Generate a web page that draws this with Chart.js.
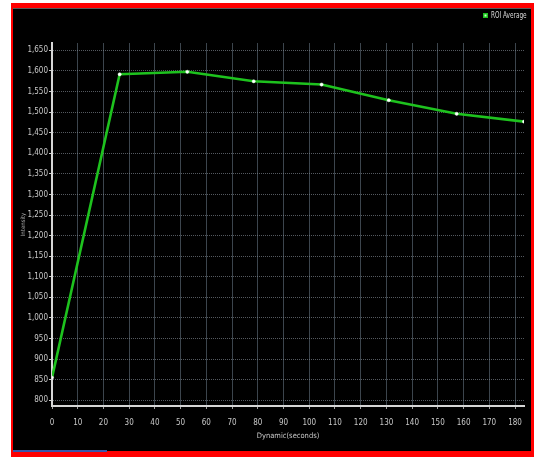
<!DOCTYPE html>
<html lang="en">
<head>
<meta charset="UTF-8">
<title>ROI Average</title>
<script src="https://cdn.jsdelivr.net/npm/chart.js"></script>
<style>
    body {
        margin: 0;
        background: #fff;
        width: 534px;
        height: 457px;
        overflow: hidden;
        position: relative;
        font-family: "Liberation Sans Narrow", "DejaVu Sans Condensed", sans-serif;
    }
    #frame {
        position: absolute;
        left: 11px;
        top: 3px;
        width: 523px;
        height: 454px;
        background: #f00;
    }
    #panel {
        position: absolute;
        left: 13px;
        top: 8px;
        width: 518px;
        height: 443px;
        background: #000;
        border-top: 1px solid #5a5a5a;
        box-sizing: border-box;
    }
    #blueBar {
        position: absolute;
        left: 13px;
        top: 450px;
        width: 94px;
        height: 2px;
        background: #3a56a8;
    }
    #chartBox {
        position: absolute;
        left: 13px;
        top: 9px;
        width: 518px;
        height: 442px;
    }
</style>
</head>
<body>
<div id="frame"></div>
<div id="panel"></div>
<div id="blueBar"></div>
<div id="chartBox"><canvas id="roiChart"></canvas></div>

<script>
    // valores
    const times = [0, 26.3, 52.6, 78.4, 104.8, 130.9, 157.3, 183.5];
    const roiAverage = [855, 1592, 1598, 1575, 1567, 1529, 1496, 1477];
    const xTicks = [0, 10, 20, 30, 40, 50, 60, 70, 80, 90, 100, 110, 120, 130, 140, 150, 160, 170, 180];
    const yTicks = [800, 850, 900, 950, 1000, 1050, 1100, 1150, 1200, 1250, 1300, 1350, 1400, 1450, 1500, 1550, 1600, 1650];

    const fontFam = '"Liberation Sans Narrow", "DejaVu Sans Condensed", sans-serif';
    const lineGreen = '#1ec21e';

    // leyenda dibujada a mano arriba a la derecha (texto comprimido)
    const legendPlugin = {
        id: 'roiLegend',
        afterDraw(chart) {
            const ctx = chart.ctx;
            ctx.save();
            ctx.fillStyle = lineGreen;
            ctx.fillRect(470, 4, 5, 5);
            ctx.fillStyle = '#c8ffc8';
            ctx.fillRect(471.5, 5.5, 2, 2);
            ctx.translate(478, 7);
            ctx.scale(0.8, 1);
            ctx.fillStyle = '#d8d8d8';
            ctx.font = '8px ' + fontFam;
            ctx.textBaseline = 'middle';
            ctx.fillText('ROI Average', 0, 0);
            ctx.restore();
        }
    };

    new Chart(document.getElementById('roiChart'), {
        type: 'line',
        data: {
            datasets: [{
                label: 'ROI Average',
                data: times.map((t, i) => ({ x: t, y: roiAverage[i] })),
                borderColor: lineGreen,
                borderWidth: 2.6,
                pointRadius: 1.6,
                pointBackgroundColor: '#ffffff',
                pointBorderColor: '#e8ffe8',
                pointBorderWidth: 0.5,
                tension: 0
            }]
        },
        options: {
            responsive: true,
            maintainAspectRatio: false,
            animation: false,
            layout: { padding: { top: 34, right: 4, left: 0, bottom: 0 } },
            plugins: {
                legend: { display: false },
                tooltip: { enabled: false }
            },
            scales: {
                x: {
                    type: 'linear',
                    min: 0,
                    max: 183.5,
                    afterBuildTicks: s => { s.ticks = xTicks.map(v => ({ value: v })); },
                    afterFit: s => { s.height = 45; },
                    ticks: {
                        color: '#c8c8c8',
                        font: { family: fontFam, size: 8 },
                        padding: 9,
                        maxRotation: 0,
                        autoSkip: false
                    },
                    grid: {
                        color: 'rgba(110,125,140,0.55)',
                        tickColor: '#a0a0a0',
                        tickLength: 3,
                        lineWidth: 1
                    },
                    border: { color: '#d6d6d6', width: 2 },
                    title: {
                        display: true,
                        text: 'Dynamic(seconds)',
                        color: '#c8c8c8',
                        font: { family: fontFam, size: 7.5 },
                        padding: { top: 0, bottom: 10 }
                    }
                },
                y: {
                    type: 'linear',
                    min: 786,
                    max: 1668,
                    afterBuildTicks: s => { s.ticks = yTicks.map(v => ({ value: v })); },
                    afterFit: s => { s.width = 39; },
                    ticks: {
                        color: '#c8c8c8',
                        font: { family: fontFam, size: 8 },
                        padding: 1,
                        autoSkip: false
                    },
                    grid: {
                        color: 'rgba(140,148,158,0.6)',
                        tickColor: '#d0d0d0',
                        tickLength: 3,
                        lineWidth: 1
                    },
                    border: { color: '#d6d6d6', width: 2, dash: [1, 1] },
                    title: {
                        display: true,
                        text: 'Intensity',
                        color: '#a8a8a8',
                        font: { family: fontFam, size: 6 },
                        padding: { top: 7, bottom: 0 }
                    }
                }
            }
        },
        plugins: [legendPlugin]
    });
</script>
</body>
</html>
